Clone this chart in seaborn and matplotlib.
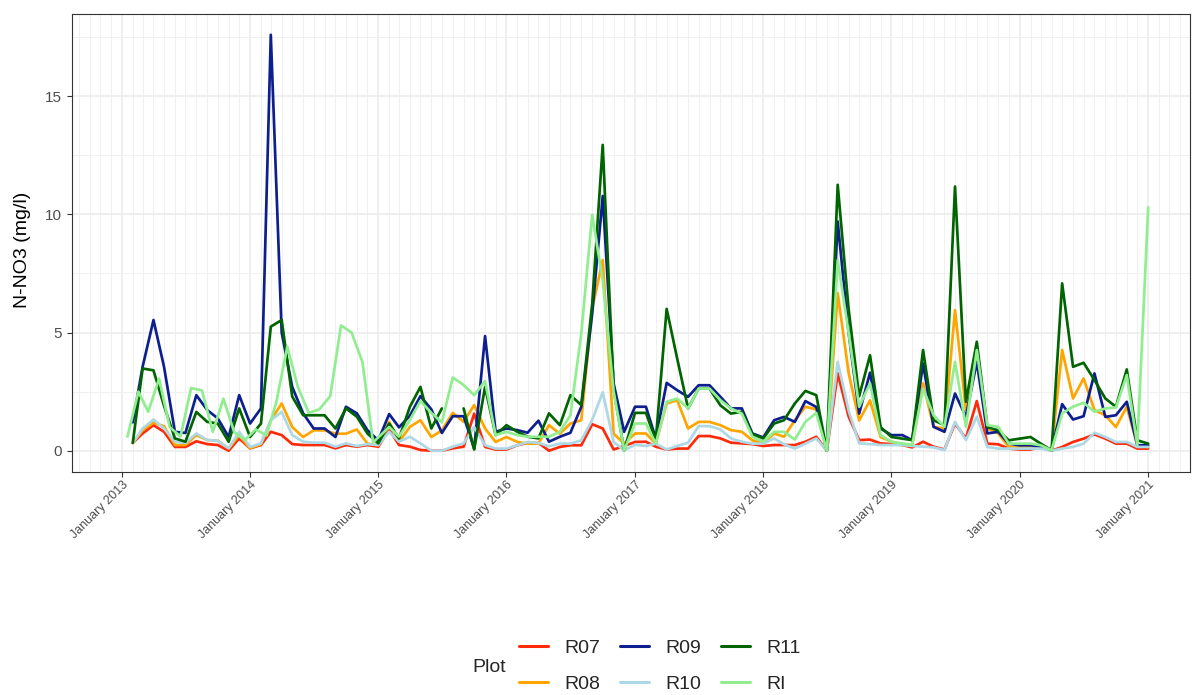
import numpy as np
import pandas as pd
import seaborn as sns
import matplotlib
matplotlib.use("Agg")
import matplotlib.pyplot as plt
import matplotlib.dates as mdates
from matplotlib.lines import Line2D

# sampling dates: plots R07-R11 monthly, Feb 2013 - Jan 2021
plot_dates = pd.date_range("2013-02-01", "2021-01-01", freq="MS")
# reference (RI): mid-month during 2013-2014, month start from Feb 2015
ri_dates = (pd.date_range("2013-01-01", periods=24, freq="MS") + pd.Timedelta(days=16)).append(
    pd.date_range("2015-02-01", "2021-01-01", freq="MS"))

plots = ["R07", "R08", "R09", "R10", "R11", "RI"]
colors = ["#FF2A0A", "#FFA500", "#0D1F8F", "#ADD8E6", "#006400", "#90EE90"]

r07 = [0.33, 0.73, 1.08, 0.8, 0.16, 0.16, 0.4, 0.28, 0.24, 0.0, 0.52, 0.1, 0.24, 0.8, 0.66, 0.28,
       0.24, 0.24, 0.24, 0.1, 0.24, 0.17, 0.24, 0.17, 0.9, 0.24, 0.17, 0.03, 0.0, 0.0, 0.1, 0.17,
       1.57, 0.16, 0.05, 0.05, 0.23, 0.33, 0.33, 0.0, 0.16, 0.23, 0.23, 1.12, 0.94, 0.05, 0.2, 0.37,
       0.38, 0.17, 0.05, 0.09, 0.09, 0.62, 0.62, 0.52, 0.34, 0.31, 0.28, 0.2, 0.24, 0.24, 0.24, 0.38,
       0.59, 0.0, 3.27, 1.45, 0.45, 0.47, 0.31, 0.28, 0.24, 0.14, 0.38, 0.17, 0.05, 1.15, 0.52, 2.1,
       0.3, 0.27, 0.09, 0.05, 0.05, 0.16, 0.0, 0.16, 0.37, 0.51, 0.69, 0.51, 0.3, 0.3, 0.09, 0.09]

r08 = [0.33, 0.87, 1.18, 1.04, 0.24, 0.24, 0.66, 0.45, 0.42, 0.1, 0.66, 0.1, 0.28, 1.29, 2.0, 1.0,
       0.58, 0.86, 0.86, 0.72, 0.72, 0.9, 0.3, 0.23, 1.22, 0.38, 1.01, 1.29, 0.58, 0.86, 1.6, 1.22,
       1.93, 0.94, 0.37, 0.58, 0.37, 0.3, 0.3, 1.08, 0.72, 1.15, 1.29, 6.0, 8.07, 0.72, 0.3, 0.73,
       0.73, 0.3, 2.0, 2.14, 0.94, 1.22, 1.22, 1.08, 0.87, 0.8, 0.44, 0.3, 0.73, 0.59, 1.29, 1.86,
       1.75, 0.0, 6.66, 3.3, 1.28, 2.13, 0.58, 0.38, 0.24, 0.24, 2.85, 1.01, 0.94, 5.95, 1.72, 3.9,
       0.94, 0.73, 0.16, 0.16, 0.16, 0.16, 0.02, 4.26, 2.21, 3.06, 1.72, 1.5, 1.0, 1.86, 0.23, 0.16]

r09 = [1.2, 3.55, 5.53, 3.55, 0.8, 0.75, 2.35, 1.72, 1.37, 0.58, 2.35, 1.15, 1.79, 17.6, 5.0, 2.7,
       1.58, 0.94, 0.94, 0.58, 1.86, 1.58, 0.87, 0.44, 1.55, 0.99, 1.48, 2.31, 1.75, 0.75, 1.46, 1.46,
       0.09, 4.85, 0.8, 0.94, 0.87, 0.76, 1.27, 0.38, 0.59, 0.76, 1.86, 5.8, 10.78, 2.85, 0.8, 1.86,
       1.86, 0.52, 2.87, 2.56, 2.28, 2.77, 2.77, 2.28, 1.79, 1.79, 0.73, 0.56, 1.29, 1.43, 1.22, 2.1,
       1.85, 0.0, 9.7, 5.0, 1.57, 3.3, 0.94, 0.66, 0.66, 0.45, 3.69, 1.01, 0.8, 2.42, 1.44, 3.76,
       0.73, 0.8, 0.3, 0.23, 0.23, 0.16, 0.02, 1.97, 1.32, 1.46, 3.27, 1.43, 1.5, 2.07, 0.23, 0.23]

r10 = [0.33, 0.94, 1.32, 0.94, 0.38, 0.33, 0.73, 0.45, 0.42, 0.1, 0.8, 0.16, 0.31, 1.29, 1.64, 0.66,
       0.38, 0.34, 0.34, 0.17, 0.31, 0.2, 0.28, 0.24, 0.8, 0.38, 0.59, 0.31, 0.0, 0.0, 0.17, 0.31,
       1.0, 0.23, 0.09, 0.09, 0.23, 0.37, 0.33, 0.19, 0.3, 0.3, 0.44, 1.3, 2.47, 0.37, 0.02, 0.25,
       0.2, 0.3, 0.05, 0.2, 0.34, 1.04, 1.04, 0.9, 0.52, 0.38, 0.3, 0.3, 0.52, 0.27, 0.09, 0.3,
       0.52, 0.0, 3.76, 1.7, 0.31, 0.28, 0.24, 0.24, 0.24, 0.2, 0.17, 0.14, 0.03, 1.22, 0.45, 1.44,
       0.16, 0.09, 0.09, 0.09, 0.09, 0.09, 0.0, 0.09, 0.16, 0.3, 0.76, 0.58, 0.37, 0.37, 0.16, 0.16]

r11 = [0.33, 3.48, 3.4, 1.9, 0.52, 0.38, 1.64, 1.22, 1.15, 0.38, 1.79, 0.58, 1.15, 5.25, 5.53, 2.29,
       1.5, 1.5, 1.5, 0.94, 1.79, 1.44, 0.73, 0.31, 1.15, 0.52, 1.86, 2.7, 0.94, 1.79, np.nan, 1.79,
       0.05, 2.7, 0.66, 1.08, 0.8, 0.59, 0.52, 1.58, 1.08, 2.35, 1.93, 6.2, 12.94, 2.6, 0.02, 1.6,
       1.6, 0.44, 6.0, 3.9, 1.79, 2.63, 2.63, 1.92, 1.57, 1.65, 0.7, 0.52, 1.15, 1.29, 2.0, 2.53,
       2.35, 0.0, 11.25, 6.0, 2.3, 4.04, 1.0, 0.58, 0.51, 0.45, 4.26, 1.29, 1.08, 11.18, 2.07, 4.61,
       1.0, 0.86, 0.44, 0.51, 0.58, 0.3, 0.02, 7.08, 3.55, 3.72, 2.99, 2.21, 1.86, 3.44, 0.44, 0.3]

ri = [0.6, 2.5, 1.65, 3.05, 1.0, 0.6, 2.65, 2.55, 0.8, 2.2, 0.78, 0.45, 0.9, 0.65, 2.08, 4.4,
      2.7, 1.6, 1.75, 2.3, 5.3, 5.0, 3.75, 0.35,
      1.0, 0.6, 1.3, 2.1, 1.6, 1.2, 3.1, 2.78, 2.35, 2.95, 0.66, 0.8, 0.66, 0.59, 0.59, 0.59,
      0.8, 1.5, 4.96, 9.98, 7.2, 2.5, 0.02, 1.15, 1.15, 0.3, 2.07, 2.21, 1.79, 2.63, 2.63, 2.14,
      1.79, 1.57, 0.59, 0.38, 0.8, 0.8, 0.47, 1.22, 1.6, 0.0, 8.07, 5.0, 1.86, 2.85, 0.66, 0.38,
      0.31, 0.24, 2.63, 1.5, 1.01, 3.76, 1.01, 4.26, 1.08, 1.01, 0.3, 0.3, 0.3, 0.23, 0.02, 1.58,
      1.86, 2.03, 1.65, 1.79, 1.83, 3.2, 0.23, 10.3]

# long table; "seg" splits a series where a value is missing so the line breaks
frames = []
for name, vals in zip(plots, [r07, r08, r09, r10, r11, ri]):
    d = ri_dates if name == "RI" else plot_dates
    v = pd.Series(vals, dtype=float)
    frames.append(pd.DataFrame({"date": d, "value": v.values, "Plot": name,
                                "seg": v.isna().cumsum().values}))
df = pd.concat(frames).dropna(subset=["value"])

sns.set_theme(style="whitegrid")
plt.rcParams["font.family"] = ["Liberation Sans", "DejaVu Sans"]

fig = plt.figure(figsize=(11.94, 6.95), dpi=100)
ax = fig.add_axes([72 / 1194, 1 - 471.5 / 695, 1118 / 1194, 457.5 / 695])

sns.lineplot(data=df, x="date", y="value", hue="Plot", hue_order=plots,
             palette=dict(zip(plots, colors)), units="seg", estimator=None,
             linewidth=1.95, legend=False, ax=ax)

ax.set_facecolor("white")
ax.set_xlim(pd.Timestamp("2012-08-12"), pd.Timestamp("2021-04-30"))
ax.set_ylim(-0.88, 18.48)
ax.xaxis.set_major_locator(mdates.YearLocator())
ax.xaxis.set_minor_locator(mdates.MonthLocator())
ax.xaxis.set_major_formatter(mdates.DateFormatter("%B %Y"))
ax.set_yticks([0, 5, 10, 15])
ax.set_yticks([2.5, 7.5, 12.5, 17.5], minor=True)

ax.grid(which="major", color="#EBEBEB", linewidth=1.1)
ax.grid(which="minor", color="#F0F0F0", linewidth=0.7)
ax.set_axisbelow(True)
for s in ax.spines.values():
    s.set_color("#333333")
    s.set_linewidth(0.8)

ax.tick_params(axis="both", which="major", length=3.5, width=0.8, color="#333333",
               labelcolor="#4D4D4D", labelsize=11, bottom=True, left=True)
ax.tick_params(axis="x", which="major", pad=2)
ax.tick_params(axis="both", which="minor", length=0)
plt.setp(ax.get_xticklabels(), rotation=45, ha="right", rotation_mode="anchor", fontsize=9)

ax.set_xlabel("")
ax.set_ylabel("N-NO3 (mg/l)", fontsize=14, color="black")
ax.yaxis.set_label_coords(-0.037, 0.485)

handles = [Line2D([0], [0], color=c, lw=2.2) for c in colors]
fig.legend(handles, plots, ncol=3, loc="center", bbox_to_anchor=(660 / 1194, 1 - 666 / 695),
           frameon=False, fontsize=14, handlelength=1.45, handletextpad=0.85,
           columnspacing=1.05, labelspacing=0.95)
fig.text(489 / 1194, 1 - 667 / 695, "Plot", ha="center", va="center", fontsize=14)

fig.savefig("out.png", dpi=100)
